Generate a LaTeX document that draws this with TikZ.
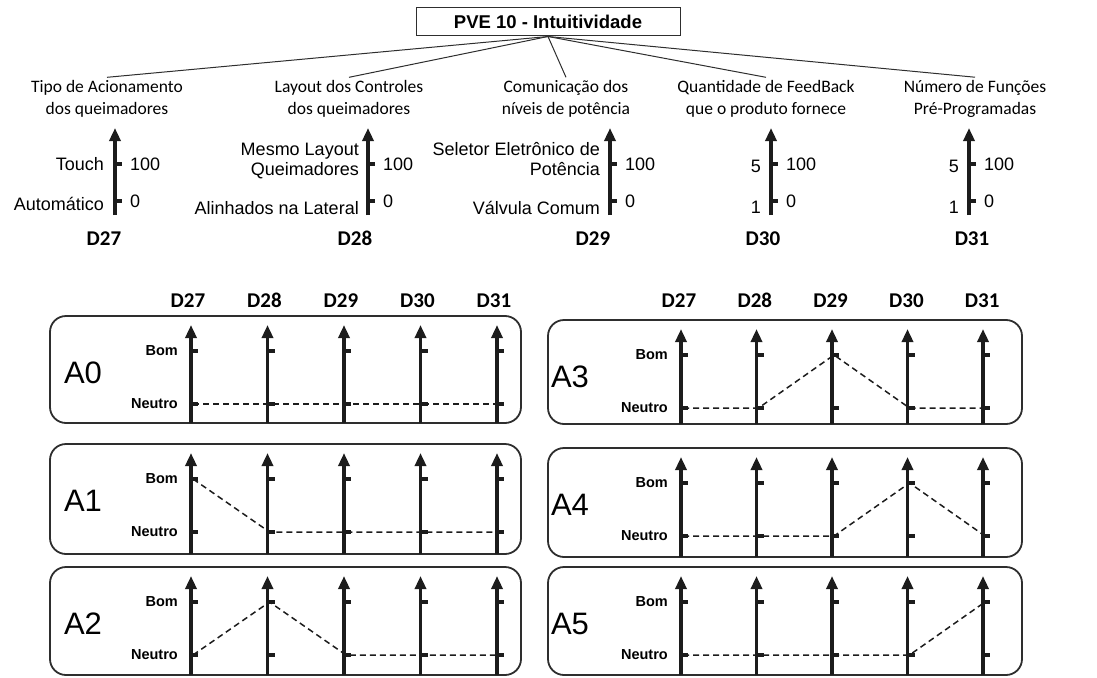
\documentclass[tikz,border=0pt]{standalone}
\usepackage{fontspec}
\setmainfont{Liberation Sans}
\newfontfamily\calfont{Carlito}
\usetikzlibrary{arrows.meta, positioning, calc}
\definecolor{inkblack}{HTML}{1C1C1C}
\definecolor{framegray}{HTML}{2E2E2E}

\begin{document}
\begin{tikzpicture}[x=1pt, y=-1pt,
    title/.style={rectangle, draw=framegray, line width=1pt, minimum width=264pt, minimum height=28pt, font=\fontsize{18.5}{20}\selectfont\bfseries},
    heading/.style={align=center, inner sep=3pt, font=\calfont\fontsize{17.5}{22}\selectfont},
    scalelbl/.style={inner sep=0pt, font=\fontsize{18}{20}\selectfont},
    dimlbl/.style={inner sep=0pt, anchor=base, font=\calfont\bfseries\fontsize{21}{24}\selectfont},
    link/.style={draw=framegray, line width=1pt},
    axis/.style={draw=inkblack, line width=3.5pt, -{Triangle[width=11pt,length=13pt]}},
    tick/.style={draw=inkblack, line width=4pt},
    panel/.style={draw=framegray, line width=1.8pt, rounded corners=16pt},
    alt/.style={inner sep=0pt, font=\fontsize{31}{31}\selectfont},
    level/.style={inner sep=0pt, font=\fontsize{14.5}{16}\selectfont\bfseries},
    profile/.style={draw=inkblack, line width=1.5pt, dash pattern=on 6pt off 4pt}
]
\useasboundingbox (0,0) rectangle (1097,677);

% Criterion and its descriptors
\node[title] (pve) at (548,22) {PVE 10 - Intuitividade};
\node[heading] (h27) at (107,99) {Tipo de Acionamento\\dos queimadores};
\node[heading] (h28) at (349,99) {Layout dos Controles\\dos queimadores};
\node[heading] (h29) at (566,99) {Comunicação dos\\níveis de potência};
\node[heading] (h30) at (766,99) {Quantidade de FeedBack\\que o produto fornece};
\node[heading] (h31) at (975,99) {Número de Funções\\Pré-Programadas};

\draw[link] (pve.south) -- (h27.north);
\draw[link] (pve.south) -- (h28.north);
\draw[link] (pve.south) -- (h29.north);
\draw[link] (pve.south) -- (h30.north);
\draw[link] (pve.south) -- (h31.north);

% Descriptor scales
\foreach \x in {115,368,610,771,969} {
    \draw[axis] (\x,215) -- (\x,128);
    \draw[tick] (\x,164) -- ++(7,0);
    \draw[tick] (\x,201) -- ++(7,0);
    \node[scalelbl, anchor=west] at (\x+15,164) {100};
    \node[scalelbl, anchor=west] at (\x+15,201) {0};
}
\node[scalelbl, anchor=east] (s27a) at (104,164) {Touch};
\node[scalelbl, anchor=east] (s27b) at (104,204) {Automático};
\node[scalelbl, anchor=east, align=right] (s28a) at (359,161) {Mesmo Layout\\Queimadores};
\node[scalelbl, anchor=east] (s28b) at (359,208) {Alinhados na Lateral};
\node[scalelbl, anchor=east, align=right] (s29a) at (600,159) {Seletor Eletrônico de\\Potência};
\node[scalelbl, anchor=east] (s29b) at (600,208) {Válvula Comum};
\node[scalelbl, anchor=east] (s30a) at (761,166) {5};
\node[scalelbl, anchor=east] (s30b) at (761,207) {1};
\node[scalelbl, anchor=east] (s31a) at (959,166) {5};
\node[scalelbl, anchor=east] (s31b) at (959,207) {1};

\node[dimlbl] (d27) at (104,245) {D27};
\node[dimlbl] (d28) at (355,245) {D28};
\node[dimlbl] (d29) at (593,245) {D29};
\node[dimlbl] (d30) at (763,245) {D30};
\node[dimlbl] (d31) at (972,245) {D31};

% Column headers of the alternatives
\foreach \d [count=\i from 0] in {27,...,31} {
    \node[dimlbl] (l\d) at (188+\i*76.5,307) {D\d};
    \node[dimlbl] (r\d) at (679+\i*75.8,307) {D\d};
}

% Alternatives A0-A5 (name/left/right/top/bottom/first axis/spacing/label x/Bom x/peak)
\foreach \nm/\lx/\rx/\ty/\by/\ax/\sp/\tx/\bx/\pk in {
    A0/50/521/316/423/191/76.5/83/178/0,
    A1/50/521/444/554/191/76.5/83/178/1,
    A2/50/521/567/675/191/76.5/83/178/2,
    A3/548/1022/320/424/681/75.5/570/668/3,
    A4/548/1022/448/557/681/75.5/570/668/4,
    A5/548/1022/567/675/681/75.5/570/668/5} {
    \draw[panel] (\lx,\ty) rectangle (\rx,\by);
    \node[alt] (\nm) at (\tx,\ty+57) {\nm};
    \node[level, anchor=east] (\nm-bom) at (\bx,\ty+35) {Bom};
    \node[level, anchor=east] (\nm-neu) at (\bx,\ty+88) {Neutro};
    \foreach \k in {1,...,5} {
        \pgfmathsetmacro\xx{\ax+(\k-1)*\sp}
        \draw[axis] (\xx,\by) -- (\xx,\ty+9);
        \draw[tick] (\xx,\ty+35) -- ++(7,0);
        \draw[tick] (\xx,\ty+88) -- ++(7,0);
        \ifnum\k=\pk
            \coordinate (\nm-p\k) at (\xx+2,\ty+35);
        \else
            \coordinate (\nm-p\k) at (\xx+2,\ty+88);
        \fi
    }
    \draw[profile] (\nm-p1) -- (\nm-p2) -- (\nm-p3) -- (\nm-p4) -- (\nm-p5);
}

\end{tikzpicture}
\end{document}
